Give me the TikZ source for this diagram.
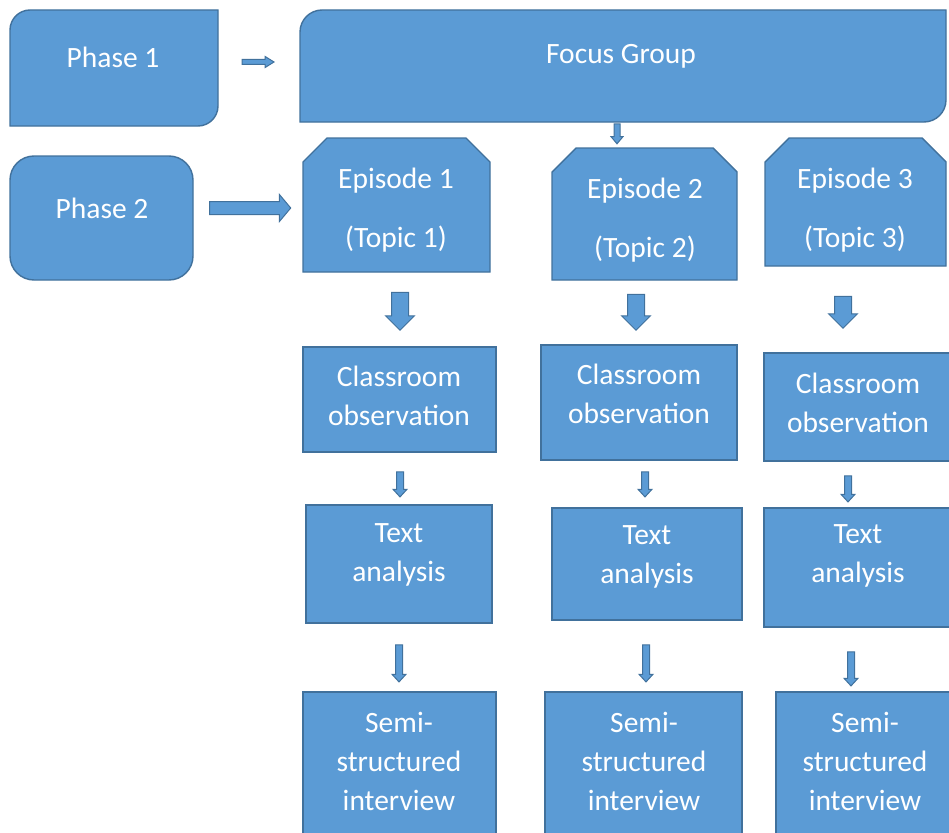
\documentclass[tikz,border=0pt]{standalone}
\usepackage{fontspec}
\setmainfont{Carlito}
\usetikzlibrary{calc,shapes.arrows}

\definecolor{boxblue}{HTML}{5B9BD5}
\definecolor{boxedge}{HTML}{41719C}

\tikzset{
  paint/.style={fill=boxblue, draw=boxedge, line width=1.4pt},
  frame/.style={rectangle, draw=none, inner sep=0pt, outer sep=0pt},
  plainbox/.style={frame, paint},
  lbl/.style={text=white, align=center, inner sep=0pt,
    font=\fontsize{29.5}{39}\selectfont},
  blockarrow/.style={shape=single arrow, fill=boxblue, draw=boxedge,
    line width=1pt, inner xsep=0pt, minimum width=0pt,
    single arrow head indent=0pt},
  thinarrow/.style={blockarrow, rotate=-90, inner ysep=3pt,
    single arrow head extend=3.5pt, single arrow tip angle=85},
  widearrow/.style={blockarrow, rotate=-90, inner ysep=8pt,
    single arrow head extend=6pt, single arrow tip angle=90},
}

% box with the top-left and bottom-right corners rounded
\newcommand\leafbox[2]{%
  \filldraw[paint] (#1.south west) -- ($(#1.north west)+(0,#2)$)
    .. controls ($(#1.north west)+(0,0.45*#2)$) and ($(#1.north west)+(0.45*#2,0)$) .. ($(#1.north west)+(#2,0)$)
    -- (#1.north east) -- ($(#1.south east)+(0,-#2)$)
    .. controls ($(#1.south east)+(0,-0.45*#2)$) and ($(#1.south east)+(-0.45*#2,0)$) .. ($(#1.south east)+(-#2,0)$)
    -- cycle;}
% box with both top corners cut off
\newcommand\snipbox[2]{%
  \filldraw[paint] (#1.south west) -- ($(#1.north west)+(0,#2)$) -- ($(#1.north west)+(#2,0)$)
    -- ($(#1.north east)+(-#2,0)$) -- ($(#1.north east)+(0,#2)$) -- (#1.south east) -- cycle;}

\begin{document}
\begin{tikzpicture}[x=1pt, y=-1pt]
\useasboundingbox (0,0) rectangle (949,832);
\clip (0,0) rectangle (949,832);

% --- phases and focus group ---
\node[frame, minimum width=208pt, minimum height=116pt] (ph1) at (114,68) {};
\leafbox{ph1}{20}
\node[frame, minimum width=646pt, minimum height=112pt] (fg) at (623,66) {};
\leafbox{fg}{22}
\node[plainbox, rounded corners=24pt, minimum width=183pt, minimum height=124pt] (ph2) at (101.5,218) {};

% --- episodes ---
\node[frame, minimum width=187pt, minimum height=134pt] (ep1) at (396.5,205) {};
\snipbox{ep1}{24}
\node[frame, minimum width=185pt, minimum height=132pt] (ep2) at (644.5,214) {};
\snipbox{ep2}{24}
\node[frame, minimum width=181pt, minimum height=128pt] (ep3) at (855.5,202) {};
\snipbox{ep3}{24}

% --- classroom observation ---
\node[plainbox, minimum width=193pt, minimum height=105pt] (co1) at (399.5,399.5) {};
\node[plainbox, minimum width=196pt, minimum height=115pt] (co2) at (639,402.5) {};
\node[plainbox, minimum width=191pt, minimum height=108pt] (co3) at (859.5,407) {};

% --- text analysis ---
\node[plainbox, minimum width=186pt, minimum height=118pt] (ta1) at (399,564) {};
\node[plainbox, minimum width=190pt, minimum height=112pt] (ta2) at (647,564) {};
\node[plainbox, minimum width=191pt, minimum height=119pt] (ta3) at (859.5,567.5) {};

% --- interviews ---
\node[plainbox, minimum width=193pt, minimum height=158pt] (si1) at (399.5,771) {};
\node[plainbox, minimum width=197pt, minimum height=158pt] (si2) at (643.5,771) {};
\node[plainbox, minimum width=179pt, minimum height=158pt] (si3) at (865.5,771) {};

% --- labels ---
\node[lbl] (ph1-t) at (113,57) {Phase 1};
\node[lbl] (fg-t) at (621,56) {Focus Group};
\node[lbl] (ph2-t) at (102,208) {Phase 2};
\node[lbl] (ep1-t) at (396,210) {Episode 1\\[20pt](Topic 1)};
\node[lbl] (ep2-t) at (645,220) {Episode 2\\[20pt](Topic 2)};
\node[lbl] (ep3-t) at (855,210) {Episode 3\\[20pt](Topic 3)};
\node[lbl] (co1-t) at (399,396) {Classroom\\observation};
\node[lbl] (co2-t) at (639,394) {Classroom\\observation};
\node[lbl] (co3-t) at (858,403) {Classroom\\observation};
\node[lbl] (ta1-t) at (399,555) {Text\\analysis};
\node[lbl] (ta2-t) at (647,557) {Text\\analysis};
\node[lbl] (ta3-t) at (858,556) {Text\\analysis};
\node[lbl] (si1-t) at (399,761) {Semi-\\structured\\interview};
\node[lbl] (si2-t) at (644,761) {Semi-\\structured\\interview};
\node[lbl] (si3-t) at (865,761) {Semi-\\structured\\interview};

% --- block arrows ---
\node[blockarrow, inner ysep=2pt, minimum height=32pt,
  single arrow head extend=3pt, single arrow tip angle=64] (a-ph1) at (256,62) {};
\node[blockarrow, inner ysep=6pt, minimum height=81pt,
  single arrow head extend=7pt, single arrow tip angle=100] (a-ph2) at (247.5,208) {};
\node[thinarrow, inner ysep=2.5pt, minimum height=20pt,
  single arrow head extend=3pt, single arrow tip angle=80] (a-fg) at (617,132) {};

\node[widearrow, minimum height=38pt] (a-ep1) at (400,307) {};
\node[widearrow, minimum height=36pt] (a-ep2) at (636,308) {};
\node[widearrow, minimum height=32pt] (a-ep3) at (843,308) {};

\node[thinarrow, minimum height=25pt] (a-co1) at (400,482.5) {};
\node[thinarrow, minimum height=25pt] (a-co2) at (645,482.5) {};
\node[thinarrow, minimum height=26pt] (a-co3) at (848,487) {};

\node[thinarrow, minimum height=37pt] (a-ta1) at (399,661.5) {};
\node[thinarrow, minimum height=37pt] (a-ta2) at (646,661.5) {};
\node[thinarrow, minimum height=34pt] (a-ta3) at (851,667) {};
\end{tikzpicture}
\end{document}
